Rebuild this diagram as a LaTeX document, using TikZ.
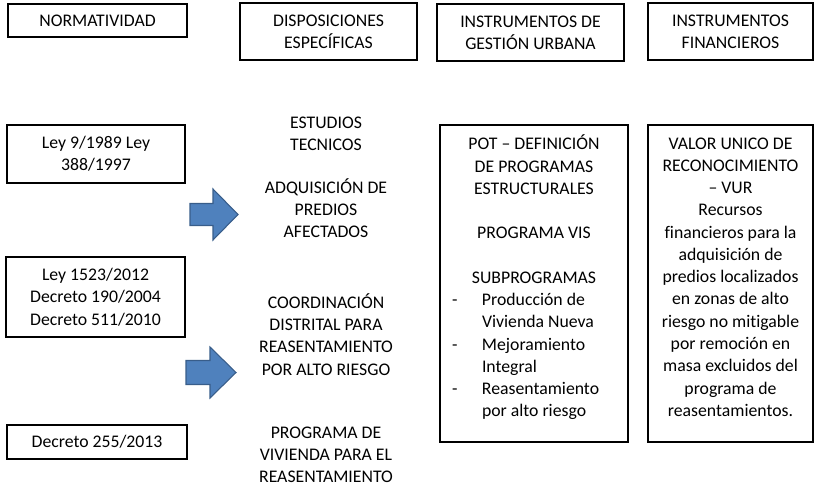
\documentclass[tikz,border=0pt]{standalone}
\usepackage{fontspec}
\setmainfont{Carlito}[Ligatures=NoCommon]
\definecolor{arrowfill}{HTML}{4F81BD}
\definecolor{arrowline}{HTML}{385D8A}
\newcommand{\poitem}[2]{\makebox[123pt][l]{\makebox[22.5pt][l]{#1}#2}}
\begin{document}
\begin{tikzpicture}[x=0.75pt,y=-0.75pt,
  every node/.style={font=\fontsize{13.3}{16.7}\selectfont, inner sep=0pt},
  box/.style={draw, line width=1.4pt, align=center},
  txt/.style={align=center},
  blockarrow/.style={fill=arrowfill, draw=arrowline, line width=0.8pt, line join=miter}]
\useasboundingbox (0,0) rectangle (816,489);

% header boxes
\node[box, minimum width=134.25pt, minimum height=24.75pt] (norm) at (97.5,20.5) {NORMATIVIDAD};
\node[box, minimum width=132.75pt, minimum height=42.75pt] (disp) at (328.5,31.5) {DISPOSICIONES\\ESPECÍFICAS};
\node[box, minimum width=140.25pt, minimum height=42.75pt] (gest) at (530.5,32.5) {INSTRUMENTOS DE\\GESTIÓN URBANA};
\node[box, minimum width=123.75pt, minimum height=42.75pt] (fin) at (730.5,31.5) {INSTRUMENTOS\\FINANCIEROS};

% normatividad boxes
\node[box, minimum width=133.5pt, minimum height=43.5pt] (ley9) at (96,154) {Ley 9/1989 Ley\\388/1997};
\node[box, minimum width=134.25pt, minimum height=60pt] (ley1523) at (95.5,297) {Ley 1523/2012\\Decreto 190/2004\\Decreto 511/2010};
\node[box, minimum width=135pt, minimum height=25.5pt] (dec255) at (97,442) {Decreto 255/2013};

% big boxes
\node[box, minimum width=141pt, minimum height=237.75pt] (pot) at (534,283.5) {};
\node[box, minimum width=123.75pt, minimum height=237.75pt] (vur) at (730.5,283.5) {};

% disposiciones texts
\node[txt] (estudios) at (326,133.5) {ESTUDIOS\\TECNICOS};
\node[txt] (adq) at (326,208) {ADQUISICIÓN DE\\PREDIOS\\AFECTADOS};
\node[txt] (coord) at (326,334.5) {COORDINACIÓN\\DISTRITAL PARA\\REASENTAMIENTO\\POR ALTO RIESGO};
\node[txt] (progviv) at (326,455) {PROGRAMA DE\\VIVIENDA PARA EL\\REASENTAMIENTO};

% box contents
\node[txt] (pottext) at (534,277.5) {POT – DEFINICIÓN\\DE PROGRAMAS\\ESTRUCTURALES\\\mbox{}\\PROGRAMA VIS\\\mbox{}\\SUBPROGRAMAS\\\poitem{-}{Producción de}\\\poitem{}{Vivienda Nueva}\\\poitem{-}{Mejoramiento}\\\poitem{}{Integral}\\\poitem{-}{Reasentamiento}\\\poitem{}{por alto riesgo}};
\node[txt] (vurtext) at (730.5,277) {VALOR UNICO DE\\RECONOCIMIENTO\\– VUR\\Recursos\\financieros para la\\adquisición de\\predios localizados\\en zonas de alto\\riesgo no mitigable\\por remoción en\\masa excluidos del\\programa de\\reasentamientos.};

% block arrows
\draw[blockarrow] (190,203.5) -- (213,203.5) -- (213,189) -- (238,214.5) -- (213,240) -- (213,225.5) -- (190,225.5) -- cycle;
\draw[blockarrow] (186,360.5) -- (210,360.5) -- (210,347) -- (236,372.5) -- (210,398) -- (210,384.5) -- (186,384.5) -- cycle;
\end{tikzpicture}
\end{document}
